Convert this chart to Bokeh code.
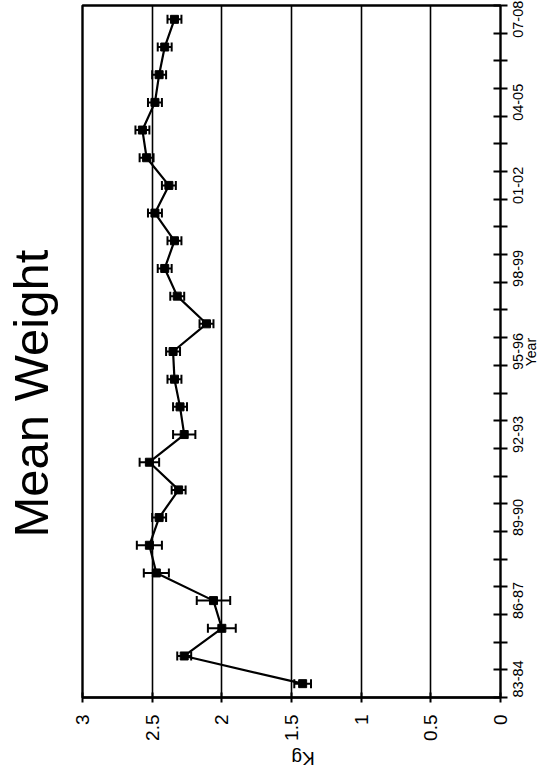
import math
from bokeh.plotting import figure
from bokeh.models import (ColumnDataSource, Range1d, FixedTicker, Whisker, TeeHead,
                          Title, LinearAxis)
from bokeh.embed import file_html
from bokeh.resources import INLINE

# ---- data ----
seasons = ["83-84", "84-85", "85-86", "86-87", "87-88", "88-89", "89-90", "90-91",
           "91-92", "92-93", "93-94", "94-95", "95-96", "96-97", "97-98", "98-99",
           "99-00", "00-01", "01-02", "02-03", "03-04", "04-05", "05-06", "06-07", "07-08"]
mean_kg = [1.42, 2.27, 2.00, 2.06, 2.47, 2.52, 2.45, 2.31,
           2.52, 2.27, 2.30, 2.34, 2.35, 2.11, 2.32, 2.41,
           2.34, 2.48, 2.38, 2.54, 2.57, 2.48, 2.45, 2.41, 2.34]
err_kg = [0.06, 0.05, 0.10, 0.12, 0.09, 0.09, 0.05, 0.05,
          0.07, 0.08, 0.05, 0.05, 0.05, 0.05, 0.05, 0.05,
          0.05, 0.05, 0.05, 0.05, 0.05, 0.05, 0.05, 0.05, 0.05]
kg_ticks = [0, 0.5, 1, 1.5, 2, 2.5, 3]
kg_tick_labels = ["0", "0.5", "1", "1.5", "2", "2.5", "3"]
labelled_seasons = ["83-84", "86-87", "89-90", "92-93", "95-96", "98-99", "01-02", "04-05", "07-08"]

n = len(seasons)
idx = list(range(n))
src = ColumnDataSource(dict(
    idx=idx, kg=mean_kg,
    lo=[m - e for m, e in zip(mean_kg, err_kg)],
    hi=[m + e for m, e in zip(mean_kg, err_kg)],
))

FONT = "Liberation Sans"
W, H = 556, 782
B_LEFT, B_RIGHT, B_TOP, B_BOTTOM = 82, 56, 5, 82
frame_w = W - B_LEFT - B_RIGHT
frame_h = H - B_TOP - B_BOTTOM
ppu_y = frame_h / n          # pixels per season
ppu_x = frame_w / 3.0        # pixels per kg

# approximate advance widths (em) of Liberation Sans, used to centre rotated labels
ADV = {"0": .556, "1": .556, "2": .556, "3": .556, "4": .556, "5": .556, "6": .556,
       "7": .556, "8": .556, "9": .556, "-": .333, "Y": .667, "e": .556, "a": .556,
       "r": .333, "K": .667, "g": .556}
def text_len(s, size):
    return sum(ADV.get(c, .556) for c in s) * size

YEAR_FS = 14.5
p = figure(width=W, height=H, output_backend="svg", toolbar_location=None,
           x_range=Range1d(3, 0), y_range=Range1d(-0.5, n - 0.5),
           x_axis_location="below", y_axis_location="right",
           min_border_left=B_LEFT, min_border_right=B_RIGHT,
           min_border_top=B_TOP, min_border_bottom=B_BOTTOM)
p.background_fill_color = "white"
p.border_fill_color = "white"
p.outline_line_color = "black"
p.outline_line_width = 2.4

# Kg axis (bottom)
xa = p.xaxis[0]
xa.ticker = FixedTicker(ticks=kg_ticks)
xa.major_label_overrides = {t: s for t, s in zip(kg_ticks, kg_tick_labels)}
xa.major_label_orientation = math.pi / 2
xa.major_label_text_font = FONT
xa.major_label_text_font_size = "19px"
xa.major_label_text_color = "black"
xa.major_tick_in = 5
xa.major_tick_out = 5
xa.major_tick_line_width = 2
xa.major_tick_line_color = "black"
xa.minor_tick_line_color = None
xa.axis_line_width = 2
xa.axis_line_color = "black"
xa.major_label_standoff = 12

# "Kg" as the label of a second, bare bottom axis (rotated 180 degrees)
kg_pos = 1.5
kg_axis = LinearAxis(ticker=FixedTicker(ticks=[kg_pos]),
                     major_label_overrides={kg_pos: "Kg"},
                     major_label_orientation=math.pi,
                     major_label_text_font=FONT, major_label_text_font_size="19px",
                     major_label_text_color="black", major_label_standoff=15,
                     axis_line_color=None, major_tick_line_color=None,
                     minor_tick_line_color=None, major_tick_in=0, major_tick_out=0)
p.add_layout(kg_axis, "below")

# Year axis (right): labels start at their anchor, so anchors sit half a label below centre
ya = p.yaxis[0]
lab_len = text_len("83-84", YEAR_FS)
label_pos = [max(seasons.index(s) - (lab_len / 2) / ppu_y, -0.4999) for s in labelled_seasons]
ya.ticker = FixedTicker(ticks=label_pos,
                        minor_ticks=[i - 0.5 for i in range(n + 1)])
ya.major_label_overrides = {pos: s for pos, s in zip(label_pos, labelled_seasons)}
ya.major_label_orientation = math.pi / 2
ya.major_label_text_font = FONT
ya.major_label_text_font_size = f"{YEAR_FS}px"
ya.major_label_text_color = "black"
ya.major_tick_in = 0
ya.major_tick_out = 0
ya.minor_tick_in = 7
ya.minor_tick_out = 7
ya.minor_tick_line_width = 2
ya.minor_tick_line_color = "black"
ya.axis_line_color = None
ya.major_label_standoff = 11

year_pos = (n - 1) / 2 - (text_len("Year", 14) / 2) / ppu_y
year_axis = LinearAxis(ticker=FixedTicker(ticks=[year_pos]),
                       major_label_overrides={year_pos: "Year"},
                       major_label_orientation=math.pi / 2,
                       major_label_text_font=FONT, major_label_text_font_size="14px",
                       major_label_text_color="black", major_label_standoff=0,
                       axis_line_color=None, major_tick_line_color=None,
                       minor_tick_line_color=None, major_tick_in=0, major_tick_out=0)
p.add_layout(year_axis, "right")

p.xgrid.ticker = FixedTicker(ticks=kg_ticks)
p.xgrid.grid_line_color = "black"
p.xgrid.grid_line_width = 1.6
p.ygrid.grid_line_color = None

# title on the left (a thin spacer panel keeps it away from the frame)
p.add_layout(Title(text=" ", text_font_size="1px", standoff=22), "left")
p.add_layout(Title(text="Mean Weight", text_font=FONT, text_font_size="49px",
                   text_font_style="normal", text_color="black",
                   align="left", vertical_align="bottom", offset=160, standoff=0), "left")

# data
p.add_layout(Whisker(source=src, base="idx", lower="lo", upper="hi", dimension="width",
                     line_color="black", line_width=2,
                     lower_head=TeeHead(size=9, line_width=2, line_color="black"),
                     upper_head=TeeHead(size=9, line_width=2, line_color="black")))
p.line(x="kg", y="idx", source=src, line_color="black", line_width=2.2)
p.scatter(x="kg", y="idx", source=src, marker="square", size=8,
          fill_color="black", line_color="black")

open("out.html", "w").write(file_html(p, INLINE))
